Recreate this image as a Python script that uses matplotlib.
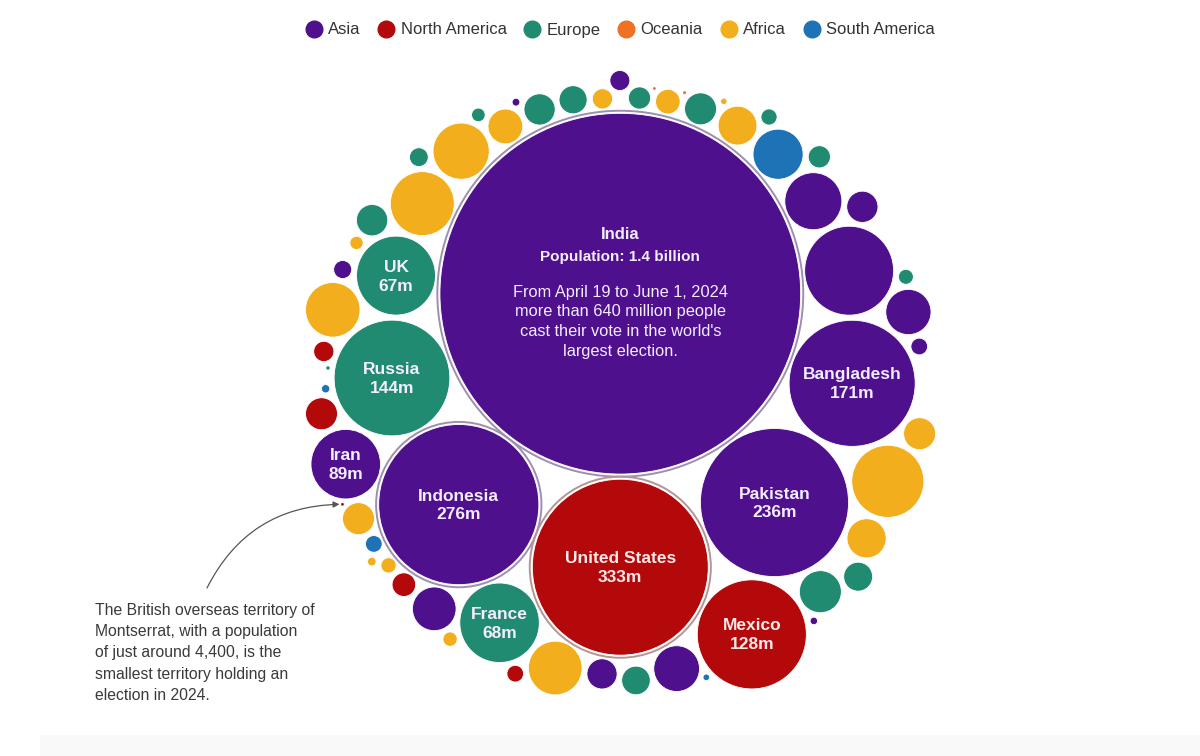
import math
import matplotlib
matplotlib.use("Agg")
import matplotlib.pyplot as plt
from matplotlib.patches import Circle, Rectangle
from matplotlib.lines import Line2D

# countries holding elections in 2024, population in millions (read from circle sizes),
# listed in the order they are packed
countries = ["India", "United States", "Indonesia", "Pakistan", "Bangladesh", "Russia", "Mexico",
             "France", "Turkey", "UK", "South Africa", "Iran", "Algeria", "Uzbekistan", "Ghana",
             "Mozambique", "Madagascar", "Venezuela", "Taiwan", "Sri Lanka", "Syria", "Romania",
             "Senegal", "Chad", "Tunisia", "South Sudan", "Belgium", "Jordan", "Dominican Republic",
             "Burundi", "Portugal", "Czechia", "Azerbaijan", "Austria", "Switzerland", "Belarus",
             "Togo", "El Salvador", "Finland", "Slovakia", "Mauritania", "Panama", "Kuwait",
             "Croatia", "Mongolia", "Uruguay", "Georgia", "Puerto Rico", "Lithuania", "Namibia",
             "North Macedonia", "Botswana", "Slovenia", "Guinea-Bissau", "Comoros", "Suriname",
             "Bhutan", "Maldives", "Cabo Verde", "Guyana", "Iceland", "Kiribati", "Palau",
             "Montserrat"]
continents = ["Asia", "North America", "Asia", "Asia", "Asia", "Europe", "North America",
              "Europe", "Asia", "Europe", "Africa", "Asia", "Africa", "Asia", "Africa",
              "Africa", "Africa", "South America", "Asia", "Asia", "Asia", "Europe",
              "Africa", "Africa", "Africa", "Africa", "Europe", "Asia", "North America",
              "Africa", "Europe", "Europe", "Asia", "Europe", "Europe", "Europe",
              "Africa", "North America", "Europe", "Europe", "Africa", "North America", "Asia",
              "Europe", "Asia", "South America", "Asia", "North America", "Europe", "Africa",
              "Europe", "Africa", "Europe", "Africa", "Africa", "South America",
              "Asia", "Asia", "Africa", "South America", "Europe", "Oceania", "Oceania",
              "North America"]
populations = [1400, 333, 276, 236, 171, 144, 128,
               68, 85, 67, 56, 52, 44, 35, 34,
               32, 31, 27, 22.5, 22, 20.5, 19,
               16.5, 16.2, 13, 11, 10.6, 10.5, 11,
               11, 11, 10.5, 9.8, 9, 8.8, 8.5,
               6.5, 6, 5.3, 5.3, 4.4, 4.4, 4.3,
               3.8, 3.5, 3.0, 3.0, 3.0, 2.8, 2.5,
               2.4, 2.2, 2.0, 1.9, 0.8, 0.75,
               0.65, 0.6, 0.45, 0.35, 0.13, 0.1, 0.08,
               0.0044]

legend_names = ["Asia", "North America", "Europe", "Oceania", "Africa", "South America"]
legend_colors = ["#4e108c", "#b3090b", "#218b72", "#ee7124", "#f2ae1d", "#1e73b7"]

labelled = ["United States", "Indonesia", "Pakistan", "Bangladesh", "Russia", "Mexico",
            "France", "UK", "Iran"]
label_values = ["333m", "276m", "236m", "171m", "144m", "128m", "68m", "67m", "89m"]

india_title = "India"
india_sub = "Population: 1.4 billion"
india_note = ("From April 19 to June 1, 2024\nmore than 640 million people\n"
              "cast their vote in the world's\nlargest election.")
note_text = ("The British overseas territory of\nMontserrat, with a population\n"
             "of just around 4,400, is the\nsmallest territory holding an\nelection in 2024.")

SCALE = 4.82      # px per sqrt(million)
PAD = 2.6         # padding around each circle, px


# ---- front-chain circle packing (same as d3.packSiblings) ----
class Node:
    def __init__(self, c):
        self.c = c
        self.next = None
        self.prev = None


def place(b, a, c):
    dx = b[0] - a[0]
    dy = b[1] - a[1]
    d2 = dx * dx + dy * dy
    if d2:
        a2 = (a[2] + c[2]) ** 2
        b2 = (b[2] + c[2]) ** 2
        if a2 > b2:
            x = (d2 + b2 - a2) / (2 * d2)
            y = math.sqrt(max(0, b2 / d2 - x * x))
            c[0] = b[0] - x * dx - y * dy
            c[1] = b[1] - x * dy + y * dx
        else:
            x = (d2 + a2 - b2) / (2 * d2)
            y = math.sqrt(max(0, a2 / d2 - x * x))
            c[0] = a[0] + x * dx - y * dy
            c[1] = a[1] + x * dy + y * dx
    else:
        c[0] = a[0] + c[2]
        c[1] = a[1]


def intersects(a, b):
    dr = a[2] + b[2] - 1e-6
    dx = b[0] - a[0]
    dy = b[1] - a[1]
    return dr > 0 and dr * dr > dx * dx + dy * dy


def score(node):
    a = node.c
    b = node.next.c
    ab = a[2] + b[2]
    dx = (a[0] * b[2] + b[0] * a[2]) / ab
    dy = (a[1] * b[2] + b[1] * a[2]) / ab
    return dx * dx + dy * dy


def pack_siblings(circles):
    n = len(circles)
    a = circles[0]
    a[0], a[1] = 0, 0
    b = circles[1]
    a[0] = -b[2]
    b[0], b[1] = a[2], 0
    place(b, a, circles[2])
    a, b, c = Node(a), Node(b), Node(circles[2])
    a.next = c.prev = b
    b.next = a.prev = c
    c.next = b.prev = a
    i = 3
    while i < n:
        place(a.c, b.c, circles[i])
        c = Node(circles[i])
        j, k = b.next, a.prev
        sj, sk = b.c[2], a.c[2]
        retry = False
        while True:
            if sj <= sk:
                if intersects(j.c, c.c):
                    b = j
                    a.next = b
                    b.prev = a
                    retry = True
                    break
                sj += j.c[2]
                j = j.next
            else:
                if intersects(k.c, c.c):
                    a = k
                    a.next = b
                    b.prev = a
                    retry = True
                    break
                sk += k.c[2]
                k = k.prev
            if j is k.next:
                break
        if retry:
            continue
        c.prev = a
        c.next = b
        a.next = c
        b.prev = c
        b = c
        aa = score(a)
        c = c.next
        while c is not b:
            ca = score(c)
            if ca < aa:
                a, aa = c, ca
            c = c.next
        b = a.next
        i += 1


def enclosing_center(circles):
    cx = sum(c[0] for c in circles) / len(circles)
    cy = sum(c[1] for c in circles) / len(circles)
    for t in range(1, 4000):
        far = max(circles, key=lambda c: math.hypot(c[0] - cx, c[1] - cy) + c[2])
        step = 0.5 / t
        cx += (far[0] - cx) * step
        cy += (far[1] - cy) * step
    return cx, cy


circles = [[0.0, 0.0, SCALE * math.sqrt(p) + PAD] for p in populations]
pack_siblings(circles[:-1])

# Montserrat is tucked into the outer gap beside Iran, as in the original graphic
iran = circles[countries.index("Iran")]
nbr = circles[countries.index("South Sudan")]
tiny = circles[-1]
place(iran, nbr, tiny)
first = (tiny[0], tiny[1])
place(nbr, iran, tiny)
if math.hypot(*first) > math.hypot(tiny[0], tiny[1]):
    tiny[0], tiny[1] = first

# quarter turn so the largest sits on top, then centre the bundle
pts = [[-c[1], c[0], c[2]] for c in circles]
ex, ey = enclosing_center(pts)
pos = {}
for name, p in zip(countries, pts):
    pos[name] = (p[0] - ex + 619, p[1] - ey + 397, p[2] - PAD)

color_of = dict(zip(legend_names, legend_colors))

fig = plt.figure(figsize=(12, 7.56), dpi=100)
ax = fig.add_axes([0, 0, 1, 1])
ax.set_xlim(0, 1200)
ax.set_ylim(756, 0)
ax.axis("off")

ax.add_patch(Rectangle((40, 735), 1160, 21, facecolor="#f9f9f9", edgecolor="none"))

for name, cont in zip(countries, continents):
    x, y, r = pos[name]
    ax.add_patch(Circle((x, y), max(r, 1.4), facecolor=color_of[cont],
                        edgecolor="white", lw=0.6 if r > 3 else 0))

ring_colors = {"India": "#9d8fb0", "Indonesia": "#9d8fb0", "United States": "#b39595"}
for name, rc in ring_colors.items():
    x, y, r = pos[name]
    ax.add_patch(Circle((x, y), r + 2.6, facecolor="none", edgecolor=rc, lw=1.4))

font = "Liberation Sans"
for name, val in zip(labelled, label_values):
    x, y, r = pos[name]
    tc = "#fbe9e9" if name in ("United States", "Mexico") else "#f4ecff"
    ax.text(x, y + 1, f"{name}\n{val}", ha="center", va="center", fontsize=12.5,
            fontweight="bold", color=tc, family=font, linespacing=1.32)

ix, iy, ir = pos["India"]
ax.text(ix, iy - 59, india_title, ha="center", va="center", fontsize=12,
        fontweight="bold", color="#f4ecff", family=font)
ax.text(ix, iy - 37, india_sub, ha="center", va="center", fontsize=11,
        fontweight="bold", color="#f4ecff", family=font)
ax.text(ix, iy + 28, india_note, ha="center", va="center", fontsize=11.8,
        color="#f4ecff", family=font, linespacing=1.38)

# Montserrat callout
mx, my, mr = pos["Montserrat"]
ax.text(95, 603, note_text, ha="left", va="top", fontsize=11.3, color="#3a3a3a",
        family=font, linespacing=1.52)
ax.annotate("", xy=(mx - 3, my), xytext=(207, 588),
            arrowprops=dict(arrowstyle="-|>", color="#555555", lw=0.9,
                            mutation_scale=9, shrinkA=0, shrinkB=0,
                            connectionstyle="arc3,rad=-0.3"))

handles = [Line2D([], [], marker="o", linestyle="none", markersize=12,
                  markerfacecolor=c, markeredgecolor=c) for c in legend_colors]
fig.legend(handles, legend_names, loc="center", bbox_to_anchor=(620 / 1200, 1 - 30 / 756),
           ncol=6, frameon=False, handlelength=1.0, handletextpad=0.35,
           columnspacing=1.05, prop={"family": font, "size": 12}, labelcolor="#333333")

fig.savefig("out.png", dpi=100)
